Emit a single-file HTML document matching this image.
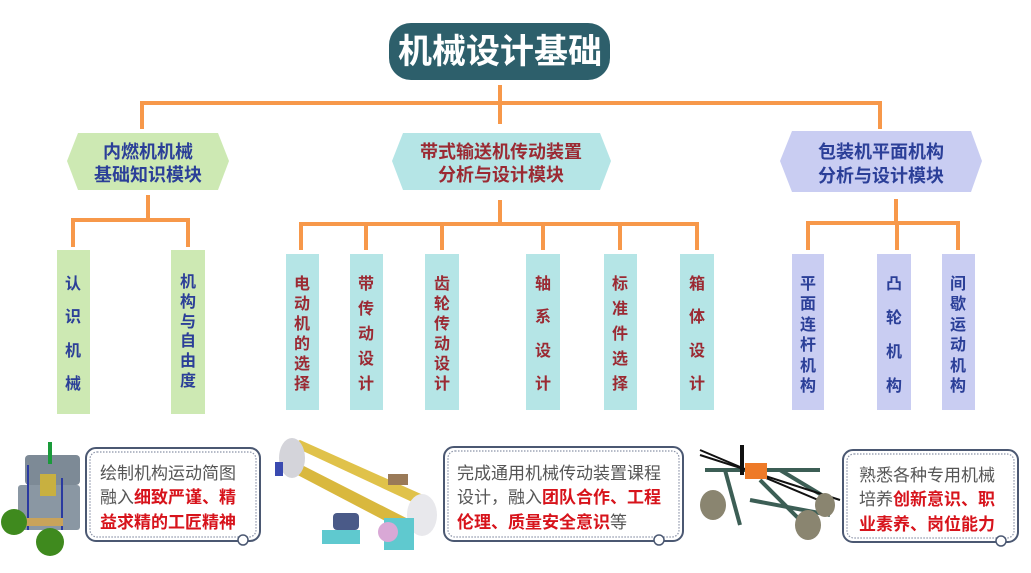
<!DOCTYPE html>
<html><head><meta charset="utf-8"><style>
html,body{margin:0;padding:0;background:#fff;}
svg{display:block;font-family:"Liberation Sans","Noto Sans CJK SC",sans-serif;}
</style></head><body>
<svg width="1031" height="573" viewBox="0 0 1031 573" xmlns="http://www.w3.org/2000/svg">
<rect width="1031" height="573" fill="#fff"/>
<rect x="389" y="23" width="221" height="57" rx="22" fill="#2d5f6b"/>
<text x="500" y="63" text-anchor="middle" font-size="34" font-weight="bold" fill="#fff">机械设计基础</text>
<g stroke="#f7984a" stroke-width="4" fill="none">
<path d="M500 85V124"/>
<path d="M142 129V103H880V129"/>
<path d="M148 195V220M73 247V220H188V247"/>
<path d="M500 200V222M301 250V224H697V250M366 224V250M442 224V250M543 224V250M620 224V250"/>
<path d="M896 199V223M808 250V223H958V250M897 223V250"/>
</g>
<polygon points="78,133 218,133 229,161 218,190 78,190 67,161" fill="#cde9b3"/>
<text x="148" y="158" text-anchor="middle" font-size="18" font-weight="bold" fill="#2b3f98">内燃机机械</text>
<text x="148" y="181" text-anchor="middle" font-size="18" font-weight="bold" fill="#2b3f98">基础知识模块</text>
<polygon points="403,133 600,133 611,161 600,190 403,190 392,161" fill="#b5e5e6"/>
<text x="501" y="158" text-anchor="middle" font-size="18" font-weight="bold" fill="#9b2a33">带式输送机传动装置</text>
<text x="501" y="181" text-anchor="middle" font-size="18" font-weight="bold" fill="#9b2a33">分析与设计模块</text>
<polygon points="792,131 971,131 982,161 971,192 792,192 780,161" fill="#c9cdf2"/>
<text x="881" y="158" text-anchor="middle" font-size="18" font-weight="bold" fill="#2b3f98">包装机平面机构</text>
<text x="881" y="182" text-anchor="middle" font-size="18" font-weight="bold" fill="#2b3f98">分析与设计模块</text>
<g>
<rect x="57" y="250" width="33" height="164" fill="#cde9b3"/>
<rect x="171" y="250" width="34" height="164" fill="#cde9b3"/>
<rect x="286" y="254" width="33" height="156" fill="#b5e5e6"/>
<rect x="350" y="254" width="33" height="156" fill="#b5e5e6"/>
<rect x="425" y="254" width="34" height="156" fill="#b5e5e6"/>
<rect x="526" y="254" width="34" height="156" fill="#b5e5e6"/>
<rect x="604" y="254" width="33" height="156" fill="#b5e5e6"/>
<rect x="680" y="254" width="34" height="156" fill="#b5e5e6"/>
<rect x="792" y="254" width="32" height="156" fill="#c9cdf2"/>
<rect x="877" y="254" width="34" height="156" fill="#c9cdf2"/>
<rect x="942" y="254" width="33" height="156" fill="#c9cdf2"/>
</g>
<g font-size="16" font-weight="bold" text-anchor="middle" fill="#2b3f98">
<text x="73" y="289">认</text><text x="73" y="322">识</text><text x="73" y="356">机</text><text x="73" y="389">械</text>
<text x="188" y="287">机</text><text x="188" y="307">构</text><text x="188" y="327">与</text><text x="188" y="346">自</text><text x="188" y="366">由</text><text x="188" y="386">度</text>
<text x="808" y="289">平</text><text x="808" y="309">面</text><text x="808" y="330">连</text><text x="808" y="350">杆</text><text x="808" y="371">机</text><text x="808" y="391">构</text>
<text x="894" y="289">凸</text><text x="894" y="323">轮</text><text x="894" y="357">机</text><text x="894" y="391">构</text>
<text x="958" y="289">间</text><text x="958" y="309">歇</text><text x="958" y="330">运</text><text x="958" y="350">动</text><text x="958" y="371">机</text><text x="958" y="391">构</text>
</g>
<g font-size="16" font-weight="bold" text-anchor="middle" fill="#9b2a33">
<text x="302" y="289">电</text><text x="302" y="309">动</text><text x="302" y="329">机</text><text x="302" y="349">的</text><text x="302" y="369">选</text><text x="302" y="389">择</text>
<text x="366" y="289">带</text><text x="366" y="314">传</text><text x="366" y="339">动</text><text x="366" y="364">设</text><text x="366" y="389">计</text>
<text x="442" y="289">齿</text><text x="442" y="309">轮</text><text x="442" y="329">传</text><text x="442" y="349">动</text><text x="442" y="369">设</text><text x="442" y="389">计</text>
<text x="543" y="289">轴</text><text x="543" y="322">系</text><text x="543" y="356">设</text><text x="543" y="389">计</text>
<text x="620" y="289">标</text><text x="620" y="314">准</text><text x="620" y="339">件</text><text x="620" y="364">选</text><text x="620" y="389">择</text>
<text x="697" y="289">箱</text><text x="697" y="322">体</text><text x="697" y="356">设</text><text x="697" y="389">计</text>
</g>
<g fill="#fff" stroke="#4b5872" stroke-width="2">
<rect x="86" y="448" width="174" height="93" rx="10"/>
<rect x="444" y="447" width="239" height="94" rx="10"/>
<rect x="843" y="450" width="175" height="92" rx="10"/>
</g>
<g fill="none" stroke="#8b93a8" stroke-width="1.2" stroke-dasharray="1.5 1.5">
<rect x="90" y="452" width="166" height="85" rx="7"/>
<rect x="448" y="451" width="231" height="86" rx="7"/>
<rect x="847" y="454" width="167" height="84" rx="7"/>
</g>
<g fill="#fff" stroke="#4b5872" stroke-width="1.5"><circle cx="243" cy="540" r="5"/><circle cx="659" cy="540" r="5"/><circle cx="1001" cy="541" r="5"/></g>
<g font-size="17" fill="#555">
<text x="100" y="479">绘制机构运动简图</text>
<text x="100" y="503">融入<tspan fill="#d7131b" font-weight="bold">细致严谨、精</tspan></text>
<text x="100" y="528" fill="#d7131b" font-weight="bold">益求精的工匠精神</text>
<text x="457" y="479">完成通用机械传动装置课程</text>
<text x="457" y="503">设计，融入<tspan fill="#d7131b" font-weight="bold">团队合作、工程</tspan></text>
<text x="457" y="528"><tspan fill="#d7131b" font-weight="bold">伦理、质量安全意识</tspan>等</text>
<text x="859" y="481">熟悉各种专用机械</text>
<text x="859" y="505">培养<tspan fill="#d7131b" font-weight="bold">创新意识、职</tspan></text>
<text x="859" y="530" fill="#d7131b" font-weight="bold">业素养、岗位能力</text>
</g>
<!-- image 1 -->
<g>
<rect x="25" y="455" width="55" height="30" rx="4" fill="#7d8a96"/>
<rect x="18" y="485" width="62" height="45" rx="3" fill="#8a97a3"/>
<rect x="40" y="474" width="16" height="22" fill="#c8b040"/>
<rect x="48" y="442" width="4" height="22" fill="#1a9a3a"/>
<line x1="28" y1="465" x2="28" y2="530" stroke="#2a3aa0" stroke-width="2"/>
<line x1="62" y1="478" x2="62" y2="530" stroke="#2a3aa0" stroke-width="2"/>
<rect x="18" y="518" width="45" height="8" fill="#c9a35a"/>
<circle cx="14" cy="522" r="13" fill="#3f8a1e"/>
<circle cx="50" cy="542" r="14" fill="#3f8a1e"/>
</g>
<!-- image 2 conveyor -->
<g>
<polygon points="290,445 300,440 430,498 425,508" fill="#e0c24a"/>
<polygon points="288,470 296,462 420,525 412,535" fill="#d9b83e"/>
<ellipse cx="292" cy="458" rx="13" ry="20" fill="#d4d4da"/>
<ellipse cx="422" cy="515" rx="15" ry="21" fill="#e8e8ec"/>
<rect x="388" y="474" width="20" height="11" fill="#9a7a58"/>
<rect x="322" y="530" width="38" height="14" fill="#5fc9cf"/>
<rect x="333" y="513" width="26" height="17" rx="4" fill="#4a5a88"/>
<rect x="384" y="518" width="30" height="32" fill="#5fc9cf"/>
<circle cx="388" cy="532" r="10" fill="#d9a8d6"/>
<rect x="275" y="462" width="8" height="14" fill="#3a4ab0"/>
</g>
<!-- image 3 -->
<g stroke="#3c5e55" stroke-width="4" fill="none">
<line x1="705" y1="470" x2="820" y2="470"/>
<line x1="725" y1="470" x2="740" y2="525"/>
<line x1="760" y1="480" x2="800" y2="520"/>
<line x1="780" y1="470" x2="830" y2="500"/>
<line x1="750" y1="500" x2="830" y2="515"/>
</g>
<g>
<line x1="700" y1="450" x2="830" y2="505" stroke="#111" stroke-width="2"/>
<line x1="700" y1="455" x2="840" y2="500" stroke="#111" stroke-width="2"/>
<rect x="745" y="463" width="22" height="16" fill="#ee7a28"/>
<ellipse cx="713" cy="505" rx="13" ry="15" fill="#8a8570"/>
<ellipse cx="808" cy="525" rx="13" ry="15" fill="#8a8570"/>
<ellipse cx="825" cy="505" rx="10" ry="12" fill="#8a8570"/>
<rect x="740" y="445" width="4" height="30" fill="#111"/>
</g>
</svg>
</body></html>
